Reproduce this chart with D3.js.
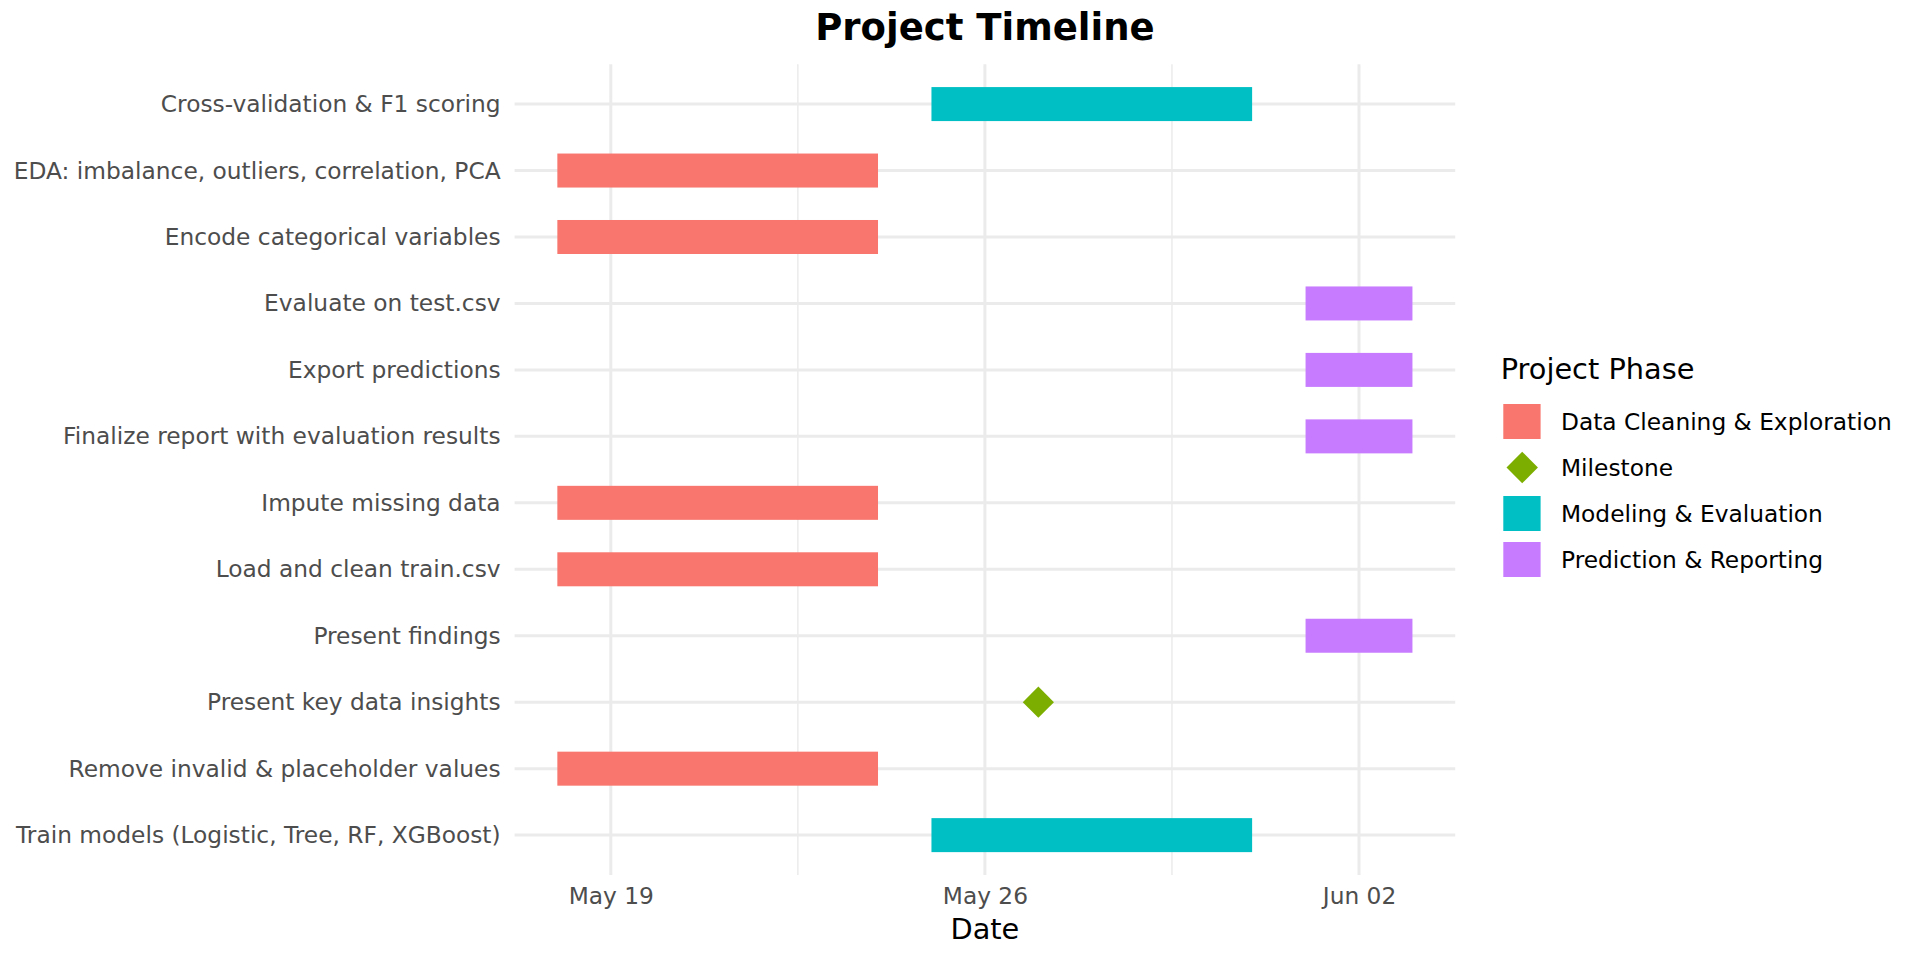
<!DOCTYPE html>
<html>
<head>
<meta charset="utf-8">
<script src="https://cdn.jsdelivr.net/npm/d3@7"></script>
<style>
  html, body { margin: 0; padding: 0; background: #ffffff; }
  svg { display: block; font-family: "DejaVu Sans", sans-serif; }
</style>
</head>
<body>
<svg id="chart" width="1920" height="960"></svg>
<script>
// ---- data ----
const tasks = [
  "Cross-validation & F1 scoring",
  "EDA: imbalance, outliers, correlation, PCA",
  "Encode categorical variables",
  "Evaluate on test.csv",
  "Export predictions",
  "Finalize report with evaluation results",
  "Impute missing data",
  "Load and clean train.csv",
  "Present findings",
  "Present key data insights",
  "Remove invalid & placeholder values",
  "Train models (Logistic, Tree, RF, XGBoost)"
];
const phases = [
  "Modeling & Evaluation",
  "Data Cleaning & Exploration",
  "Data Cleaning & Exploration",
  "Prediction & Reporting",
  "Prediction & Reporting",
  "Prediction & Reporting",
  "Data Cleaning & Exploration",
  "Data Cleaning & Exploration",
  "Prediction & Reporting",
  "Milestone",
  "Data Cleaning & Exploration",
  "Modeling & Evaluation"
];
const startDates = [
  "2025-05-25", "2025-05-18", "2025-05-18", "2025-06-01", "2025-06-01", "2025-06-01",
  "2025-05-18", "2025-05-18", "2025-06-01", "2025-05-27", "2025-05-18", "2025-05-25"
];
const endDates = [
  "2025-05-31", "2025-05-24", "2025-05-24", "2025-06-03", "2025-06-03", "2025-06-03",
  "2025-05-24", "2025-05-24", "2025-06-03", "2025-05-27", "2025-05-24", "2025-05-31"
];
const legendPhases = ["Data Cleaning & Exploration", "Milestone", "Modeling & Evaluation", "Prediction & Reporting"];
const phaseColors = ["#F8766D", "#7CAE00", "#00BFC4", "#C77CFF"];
const majorTicks = ["2025-05-19", "2025-05-26", "2025-06-02"];
const minorTicks = ["2025-05-22T12:00:00Z", "2025-05-29T12:00:00Z"];
const titleText = "Project Timeline";
const xTitle = "Date";
const legendTitle = "Project Phase";

// ---- build ----
const parse = s => new Date(s.length === 10 ? s + "T00:00:00Z" : s);
const rows = tasks.map((t, i) => ({
  task: t, phase: phases[i], start: parse(startDates[i]), end: parse(endDates[i])
}));

const svg = d3.select("#chart");
const panel = { left: 514.6, right: 1455.2, top: 64.2, bottom: 875 };

const minD = d3.min(rows, d => d.start), maxD = d3.max(rows, d => d.end);
const span = maxD - minD;
const x = d3.scaleUtc()
  .domain([new Date(+minD - 0.05 * span), new Date(+maxD + 0.05 * span)])
  .range([panel.left, panel.right]);
const y = d3.scalePoint().domain(tasks).range([panel.top, panel.bottom]).padding(0.6);
const color = d3.scaleOrdinal().domain(legendPhases).range(phaseColors);

const gridColor = "#EBEBEB";
// minor vertical grid
svg.append("g").selectAll("line").data(minorTicks.map(parse)).join("line")
  .attr("x1", d => x(d)).attr("x2", d => x(d))
  .attr("y1", panel.top).attr("y2", panel.bottom)
  .attr("stroke", gridColor).attr("stroke-width", 1.5);
// major vertical grid
svg.append("g").selectAll("line").data(majorTicks.map(parse)).join("line")
  .attr("x1", d => x(d)).attr("x2", d => x(d))
  .attr("y1", panel.top).attr("y2", panel.bottom)
  .attr("stroke", gridColor).attr("stroke-width", 3);
// horizontal grid
svg.append("g").selectAll("line").data(tasks).join("line")
  .attr("x1", panel.left).attr("x2", panel.right)
  .attr("y1", d => y(d)).attr("y2", d => y(d))
  .attr("stroke", gridColor).attr("stroke-width", 3);

// bars
const barH = 34;
svg.append("g").selectAll("rect")
  .data(rows.filter(d => d.phase !== "Milestone")).join("rect")
  .attr("x", d => x(d.start))
  .attr("width", d => x(d.end) - x(d.start))
  .attr("y", d => y(d.task) - barH / 2)
  .attr("height", barH)
  .attr("fill", d => color(d.phase));

// milestones
const diamond = d3.symbol().type(d3.symbolDiamond2).size(620);
svg.append("g").selectAll("path")
  .data(rows.filter(d => d.phase === "Milestone")).join("path")
  .attr("d", diamond)
  .attr("transform", d => `translate(${x(d.start)},${y(d.task)})`)
  .attr("fill", color("Milestone"));

// axes
const yAxis = d3.axisLeft(y).tickSize(0).tickPadding(14);
const gy = svg.append("g").attr("transform", `translate(${panel.left},0)`).call(yAxis);
gy.select(".domain").remove();
gy.selectAll("text").attr("font-size", 23.3).attr("fill", "#4D4D4D")
  .attr("font-family", "DejaVu Sans, sans-serif");

const xAxis = d3.axisBottom(x).tickValues(majorTicks.map(parse))
  .tickFormat(d3.utcFormat("%b %d")).tickSize(0).tickPadding(12);
const gx = svg.append("g").attr("transform", `translate(0,${panel.bottom})`).call(xAxis);
gx.select(".domain").remove();
gx.selectAll("text").attr("font-size", 23.3).attr("fill", "#4D4D4D")
  .attr("font-family", "DejaVu Sans, sans-serif");

// titles
svg.append("text").attr("x", (panel.left + panel.right) / 2).attr("y", 40)
  .attr("text-anchor", "middle").attr("font-size", 37).attr("font-weight", "bold")
  .attr("fill", "#000").text(titleText);
svg.append("text").attr("x", (panel.left + panel.right) / 2).attr("y", 939)
  .attr("text-anchor", "middle").attr("font-size", 28.8).attr("fill", "#000").text(xTitle);

// legend
const lg = svg.append("g").attr("transform", "translate(1500.7,0)");
lg.append("text").attr("x", 0).attr("y", 379).attr("font-size", 28.8).attr("fill", "#000").text(legendTitle);
const keyY = d3.scalePoint().domain(legendPhases).range([421.5, 559.5]);
const items = lg.selectAll("g.item").data(legendPhases).join("g").attr("class", "item")
  .attr("transform", d => `translate(0,${keyY(d)})`);
items.each(function(d) {
  const g = d3.select(this);
  if (d === "Milestone") {
    g.append("path").attr("d", d3.symbol().type(d3.symbolDiamond2).size(630))
      .attr("transform", "translate(21.5,0)").attr("fill", color(d));
  } else {
    g.append("rect").attr("x", 2.6).attr("y", -17.5).attr("width", 37.3).attr("height", 35)
      .attr("fill", color(d));
  }
  g.append("text").attr("x", 60.3).attr("y", 0).attr("dy", "0.35em")
    .attr("font-size", 23.3).attr("fill", "#000").text(d);
});
</script>
</body>
</html>
